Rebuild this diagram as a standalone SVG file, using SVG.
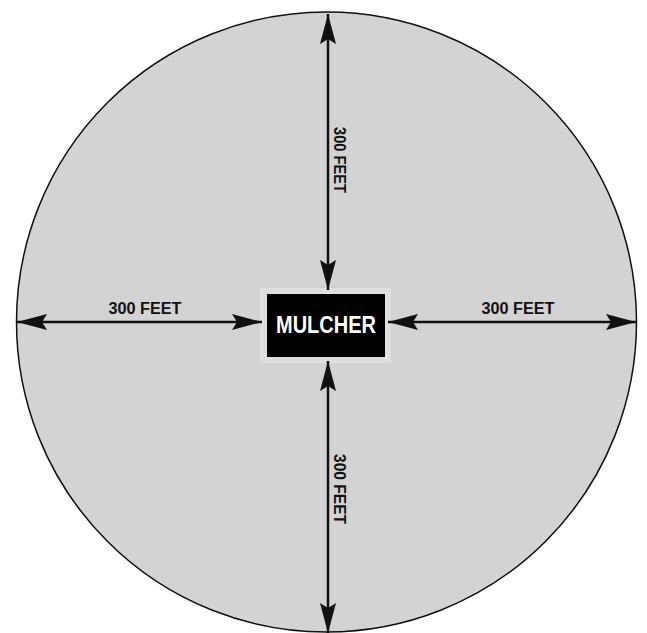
<svg xmlns="http://www.w3.org/2000/svg" width="647" height="633" viewBox="0 0 647 633">
<style>
.lbl{font-family:"Liberation Sans",Arial,sans-serif;font-weight:bold;font-size:16px;fill:#111;}
.ln{stroke:#111;stroke-width:2.5;fill:none;}
</style>
<defs>
<marker id="ah" viewBox="0 0 30 16" refX="30" refY="8" markerWidth="30" markerHeight="16" markerUnits="userSpaceOnUse" orient="auto-start-reverse">
<path d="M0,0 L30,8 L0,16 L5,8 Z" fill="#111"/>
</marker>
</defs>
<rect width="647" height="633" fill="#fff"/>
<g id="circle"><circle cx="326.5" cy="322" r="310" fill="#d3d3d3" stroke="#111" stroke-width="1.5"/></g>
<g id="mulcher">
<rect x="260" y="288" width="131" height="75" fill="#dfdfdf"/>
<rect x="267" y="294" width="118" height="63" fill="#000"/>
<text x="326" y="333" text-anchor="middle" font-family="Liberation Sans, Arial, sans-serif" font-weight="bold" font-size="24" fill="#fff" textLength="100" lengthAdjust="spacingAndGlyphs">MULCHER</text>
</g>
<g id="connectors">
<line class="ln" x1="328" y1="14" x2="328" y2="290" marker-start="url(#ah)" marker-end="url(#ah)"/>
<line class="ln" x1="328" y1="361" x2="328" y2="633" marker-start="url(#ah)" marker-end="url(#ah)"/>
<line class="ln" x1="17" y1="322" x2="262" y2="322" marker-start="url(#ah)" marker-end="url(#ah)"/>
<line class="ln" x1="388" y1="322" x2="636" y2="322" marker-start="url(#ah)" marker-end="url(#ah)"/>
</g>
<g id="labels">
<text class="lbl" x="145" y="314" text-anchor="middle" textLength="73" lengthAdjust="spacingAndGlyphs">300 FEET</text>
<text class="lbl" x="518" y="314" text-anchor="middle" textLength="73" lengthAdjust="spacingAndGlyphs">300 FEET</text>
<text class="lbl" transform="translate(334,160) rotate(90)" text-anchor="middle" textLength="66" lengthAdjust="spacingAndGlyphs">300 FEET</text>
<text class="lbl" transform="translate(334,489) rotate(90)" text-anchor="middle" textLength="70" lengthAdjust="spacingAndGlyphs">300 FEET</text>
</g>
</svg>
